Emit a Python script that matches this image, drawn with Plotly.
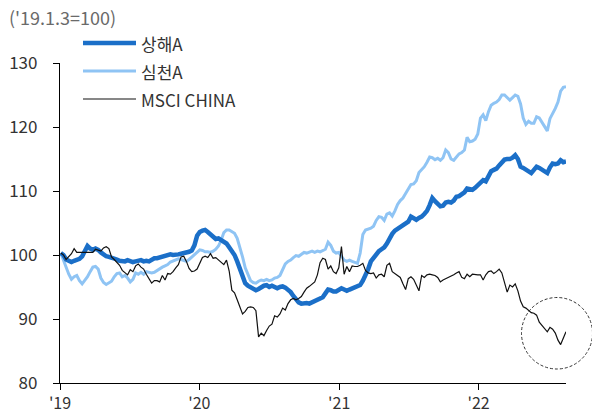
import pandas as pd
import plotly.graph_objects as go

# weekly observations, '19.1.3 = 100
dates = pd.date_range("2019-01-03", periods=190, freq="7D")

shanghai_a = [
    100.3, 100.0, 99.3, 99.0, 98.9, 99.1, 99.3, 99.4, 99.8, 100.8,
    101.4, 101.0, 100.8, 101.0, 100.8, 100.4, 100.0, 99.8, 99.7, 99.6,
    99.5, 99.3, 99.1, 99.1, 99.0, 99.2, 99.1, 98.9, 99.0, 99.1,
    99.2, 99.0, 99.1, 99.0, 99.2, 99.5, 99.5, 99.6, 99.7, 99.9,
    100.0, 100.1, 100.0, 100.0, 100.1, 100.2, 100.3, 100.3, 100.5, 100.7,
    101.5, 103.0, 103.6, 103.8, 103.9, 103.6, 103.3, 102.8, 102.5, 102.6,
    102.3, 102.0, 101.8, 101.2, 100.7, 100.0, 99.0, 98.0, 97.0, 95.6,
    95.2, 95.0, 94.7, 94.5, 94.7, 95.0, 95.2, 95.3, 95.0, 95.2,
    95.0, 94.8, 95.0, 95.1, 94.9, 94.6, 94.2, 93.6, 93.0, 92.6,
    92.4, 92.5, 92.5, 92.4, 92.6, 92.7, 92.9, 93.1, 93.4, 94.0,
    94.6, 94.5, 94.3, 94.3, 94.6, 94.8, 94.6, 94.4, 94.6, 94.8,
    95.0, 95.1, 95.3, 96.0, 96.8, 97.8, 99.0, 99.6, 100.2, 100.6,
    100.9, 101.2, 101.8, 102.6, 103.3, 103.8, 104.1, 104.3, 104.6, 104.9,
    105.2, 106.0, 105.8, 105.5, 105.8, 106.0, 106.4, 106.9, 107.8, 108.9,
    108.4, 107.9, 107.6, 107.7, 108.2, 108.3, 108.2, 108.5, 109.1, 109.2,
    109.5, 109.8, 110.4, 110.3, 110.2, 110.5, 110.9, 111.5, 111.7, 111.5,
    112.4, 113.1, 113.3, 113.5, 114.0, 114.5, 114.9, 115.0, 115.0, 115.2,
    115.6, 115.0, 113.8, 113.6, 113.3, 113.1, 112.8, 113.3, 113.8, 113.6,
    113.3, 113.0, 112.8, 113.7, 114.3, 114.2, 114.3, 114.8, 114.5, 114.6,
]

shenzhen_a = [
    100.3, 99.2, 98.0, 97.0, 96.2, 96.6, 96.8, 96.0, 95.5, 96.0,
    96.6, 97.4, 98.1, 98.2, 97.8, 96.4, 95.7, 95.4, 95.6, 95.9,
    96.6, 97.1, 97.2, 96.6, 96.8, 96.4, 95.8, 96.2, 97.2, 97.0,
    97.3, 97.0, 97.4, 97.3, 97.2, 97.3, 97.6, 97.9, 98.1, 98.3,
    98.5, 98.9, 99.1, 99.2, 99.4, 99.3, 99.1, 99.0, 99.3, 99.7,
    100.1, 100.5, 100.8, 100.7, 100.5, 100.5, 100.4, 100.6, 100.9, 101.4,
    102.3, 103.5, 103.9, 103.9, 103.7, 103.4, 102.6, 101.3, 99.7, 98.0,
    96.9, 96.0, 95.7, 95.6, 95.9, 96.1, 96.0, 96.2, 96.0, 96.1,
    96.4, 96.5, 96.8, 97.6, 98.6, 99.0, 99.2, 99.6, 99.9, 99.8,
    100.1, 100.4, 100.3, 100.5, 100.6, 100.4, 100.6, 100.5, 100.7, 100.9,
    102.0, 101.5, 100.6, 100.3, 100.4, 99.8, 99.2, 99.0, 99.2, 99.0,
    98.8, 98.7, 100.3, 103.2, 103.9, 104.0, 104.2, 104.5, 105.4, 106.0,
    105.9, 105.4, 106.4, 106.6, 106.1, 106.9, 107.9, 108.5, 108.9, 109.6,
    110.3, 111.0, 111.1, 111.6, 112.9, 113.4, 113.8, 114.5, 115.3, 115.2,
    114.9, 115.1, 114.8, 115.2, 116.4, 116.0, 115.0, 114.8, 115.4, 115.8,
    116.0, 116.4, 118.4, 117.7, 117.8, 118.1, 118.9, 121.4, 121.9, 121.0,
    122.4, 123.4, 123.7, 123.9, 124.3, 125.0, 125.0, 124.6, 124.2, 124.6,
    125.0, 124.8, 123.6, 121.4, 120.4, 120.9, 120.6, 120.6, 121.6, 121.4,
    120.8, 120.2, 119.4, 121.3, 122.0, 122.9, 123.9, 125.6, 126.2, 126.3,
]

msci_china = [
    100.3, 100.0, 99.3, 99.8, 100.2, 101.0, 100.4, 100.4, 100.4, 100.4,
    100.5, 100.5, 100.4, 100.9, 100.8, 100.6, 101.1, 101.3, 101.0, 99.7,
    99.3, 98.9, 98.4, 97.6, 97.2, 96.9, 97.7, 97.4, 98.3, 98.6,
    98.1, 97.8, 97.0, 96.3, 95.6, 96.0, 96.0, 95.8, 96.8, 96.1,
    97.1, 97.0, 97.4, 98.0, 98.5, 99.7, 99.8, 99.0, 97.9, 97.4,
    97.5, 97.8, 98.6, 99.6, 99.8, 99.6, 100.2, 99.5, 99.6, 99.2,
    98.8, 98.5, 99.2, 97.5, 94.5, 94.1, 93.0, 91.8, 90.8, 91.2,
    91.8, 91.9, 91.8, 91.3, 87.2, 87.8, 87.4, 88.2, 88.9, 89.2,
    90.5, 90.3, 90.8, 91.7, 91.4, 92.4, 93.0, 93.2, 93.0, 93.2,
    93.5, 94.2, 94.8, 95.1, 95.4, 95.8, 96.9, 98.8, 99.5, 99.3,
    97.8, 98.3, 97.4, 97.1, 98.0, 101.3, 97.0, 98.2, 97.4, 98.3,
    98.2, 98.2, 98.4, 98.7, 97.6, 97.2, 97.1, 97.2, 96.4, 96.9,
    97.0, 96.6, 98.4, 98.7, 97.4, 97.1, 96.9, 96.5, 95.5, 94.6,
    96.3, 96.6, 96.2, 95.3, 94.4, 96.8, 96.5, 96.9, 97.0, 96.9,
    96.8, 96.5, 95.8, 96.1, 96.3, 96.4, 96.6, 96.9, 97.2, 97.4,
    96.5, 96.3, 97.0, 96.6, 97.0, 96.9, 96.9, 96.9, 96.1, 96.9,
    97.4, 97.5, 97.1, 97.4, 97.8, 97.2, 95.7, 94.2, 95.3, 95.0,
    95.5, 94.4, 92.8, 91.9, 91.7, 91.3, 91.0, 90.9, 90.6, 89.5,
    89.0, 88.6, 88.0, 88.7, 88.4, 87.8, 86.7, 86.0, 86.9, 88.0,
]

series_names = ["상해A", "심천A", "MSCI CHINA"]
tick_dates = ["2019-01-01", "2020-01-01", "2021-01-01", "2022-01-01"]
tick_text = ["'19", "'20", "'21", "'22"]
y_ticks = [80, 90, 100, 110, 120, 130]

c_sh = "#1b6fc8"
c_sz = "#8fc4f4"
c_mc = "#111111"
FONT = "Noto Sans CJK KR"

fig = go.Figure()
fig.add_trace(go.Scatter(x=dates, y=shenzhen_a, mode="lines", name=series_names[1],
                         line=dict(color=c_sz, width=3), showlegend=False))
fig.add_trace(go.Scatter(x=dates, y=shanghai_a, mode="lines", name=series_names[0],
                         line=dict(color=c_sh, width=4.5), showlegend=False))
fig.add_trace(go.Scatter(x=dates, y=msci_china, mode="lines", name=series_names[2],
                         line=dict(color=c_mc, width=1.2), showlegend=False))

W, H = 592, 416
L, R, T, B = 60, 26, 63, 33
pw, ph = W - L - R, H - T - B

def px(x):
    return (x - L) / pw

def py(y):
    return (H - B - y) / ph

shapes = []
annotations = []
# manual legend
leg = [(series_names[0], c_sh, 4.5, 43), (series_names[1], c_sz, 3, 71), (series_names[2], c_mc, 1.2, 99)]
for name, col, w, yy in leg:
    shapes.append(dict(type="line", xref="paper", yref="paper",
                       x0=px(83), x1=px(136), y0=py(yy), y1=py(yy),
                       line=dict(color=col, width=w)))
    annotations.append(dict(xref="paper", yref="paper", x=px(139), y=py(yy),
                            text=name, showarrow=False, xanchor="left", yanchor="middle",
                            font=dict(family=FONT, size=17, color="#333333")))

# unit label
annotations.append(dict(xref="paper", yref="paper", x=px(7), y=py(17),
                        text="('19.1.3=100)", showarrow=False, xanchor="left", yanchor="middle",
                        font=dict(family=FONT, size=18, color="#6a6a6a")))

# dashed highlight circle
shapes.append(dict(type="circle", xref="paper", yref="paper",
                   x0=px(521.5), x1=px(592.5), y0=py(369), y1=py(297.5),
                   line=dict(color="#333333", width=1, dash="3px,2px")))

fig.update_layout(
    width=W, height=H,
    margin=dict(l=L, r=R, t=T, b=B, pad=0, autoexpand=False),
    paper_bgcolor="white", plot_bgcolor="white",
    font=dict(family=FONT, size=17, color="#333333"),
    shapes=shapes, annotations=annotations,
    showlegend=False,
)
fig.update_xaxes(
    type="date", range=["2019-01-01", "2022-08-18"],
    tickvals=tick_dates, ticktext=tick_text,
    showgrid=False, zeroline=False, automargin=False,
    showline=True, linecolor="#000000", linewidth=1.3,
    ticks="outside", ticklen=6, tickcolor="#000000", tickwidth=1.3,
    ticklabelstandoff=0,
    tickfont=dict(family=FONT, size=16, color="#333333"),
)
fig.update_yaxes(
    range=[80, 130], tickvals=y_ticks,
    showgrid=False, zeroline=False, automargin=False,
    showline=True, linecolor="#000000", linewidth=1.3,
    ticks="outside", ticklen=6, tickcolor="#000000", tickwidth=1.3,
    ticklabelstandoff=12,
    tickfont=dict(family=FONT, size=17, color="#333333"),
)

fig.write_html("out.html")
